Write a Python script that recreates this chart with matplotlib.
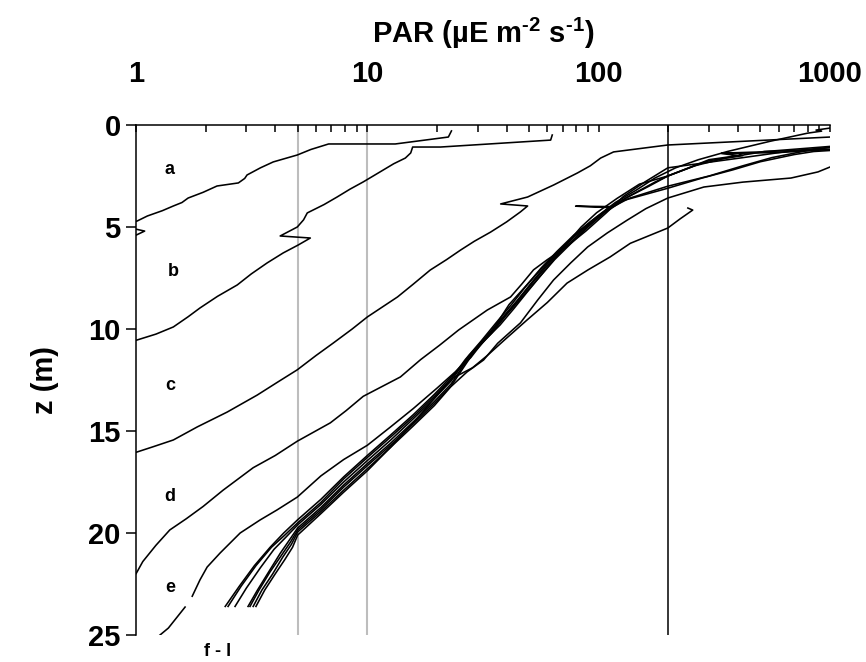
# PAR depth profiles (log scale) -- profiles a to l
import numpy as np
import matplotlib
matplotlib.use("Agg")
import matplotlib.pyplot as plt
from matplotlib.ticker import LogLocator, NullFormatter

plt.rcParams["font.family"] = ["Liberation Sans", "DejaVu Sans"]
plt.rcParams["font.weight"] = "bold"
plt.rcParams["mathtext.fontset"] = "custom"
plt.rcParams["mathtext.rm"] = "Liberation Sans:bold"
plt.rcParams["mathtext.default"] = "rm"

nan = np.nan

# Profiles: depth z (m) and PAR (uE m-2 s-1)
z_a = [0.29, 0.59, 0.93, 0.93, 1.20, 1.47, 1.81, 2.10, 2.45, 2.62, 2.84, 2.99, 3.30, 3.58,
       3.80, 3.97, 4.20, 4.46, 4.71, 4.80, 5.05, 5.20, 5.40, 5.50]
par_a = [23.1, 22.4, 13.2, 6.8, 5.7, 4.98, 3.92, 3.45, 3.02, 2.95, 2.77, 2.24, 1.95, 1.68,
         1.58, 1.45, 1.30, 1.12, 1.01, 0.92, 0.95, 1.09, 1.0, 0.85]

z_b = [0.49, 0.74, 1.08, 1.08, 1.37, 1.62, 1.90, 2.21, 2.50, 2.79, 3.15, 3.53, 3.90, 4.31,
       4.65, 5.00, 5.44, 5.54, 5.88, 6.27, 6.76, 7.30, 7.84, 8.40, 8.97, 9.40, 9.90, 10.25,
       10.54, 10.70]
par_b = [63, 62, 20.7, 15.7, 15.4, 14.6, 13.0, 11.7, 10.6, 9.6, 8.4, 7.4, 6.5, 5.5,
         5.3, 4.98, 4.2, 5.67, 5.03, 4.33, 3.69, 3.15, 2.74, 2.25, 1.89, 1.68, 1.45, 1.22,
         1.01, 0.9]

z_c = [0.59, 0.98, 1.32, 1.62, 2.00, 2.35, 2.94, 3.53, 3.87, 3.97, 4.26, 4.75, 5.25, 5.70,
       6.13, 6.60, 7.11, 7.80, 8.43, 9.41, 10.0, 10.69, 11.30, 12.0, 12.60, 13.24, 14.07,
       14.80, 15.44, 15.78, 16.03, 16.20]
par_c = [1000, 199, 116, 102, 92, 81, 63.9, 49.3, 37.7, 49.3, 45.9, 40.0, 34.1, 29.0,
         25.3, 22.0, 18.7, 15.8, 13.5, 10.0, 8.6, 7.12, 6.0, 4.98, 4.1, 3.34, 2.48,
         1.84, 1.45, 1.18, 1.01, 0.9]

z_d = [1.10, 1.25, 1.60, 2.10, 2.80, 3.50, 4.30, 5.20, 6.00, 6.60, 7.10, 7.80, 8.43, 9.07,
       10.05, 10.80, 11.50, 12.35, 13.30, 14.00, 14.60, 15.50, 16.20, 16.80, 17.90, 18.70,
       19.30, 19.85, 20.60, 21.40, 22.00, 22.30]
par_d = [1000, 700, 420, 199, 158, 128, 108, 88, 72, 60, 52.3, 46.5, 41.6, 33.0,
         24.8, 20.5, 17.0, 13.9, 9.6, 8.1, 6.92, 4.98, 4.0, 3.21, 2.38, 1.95,
         1.65, 1.40, 1.22, 1.07, 1.0, 0.9]

z_e = [25.00, 24.66, 23.63, nan, 23.10, 22.30, 21.67, 20.98, 20.00, 19.36, 18.87, 18.24,
       17.20, 16.40, 15.70, 14.80, 13.90, 12.90, 12.10, 11.30, 10.50, 9.80, 9.00, 8.20,
       7.40, 6.60, 5.80, 5.00, 4.30, 3.60, 2.90, 2.50, 2.10, 1.70, 1.50, 1.40, 1.35, 1.20]
par_e = [1.27, 1.38, 1.63, nan, 1.75, 1.89, 2.03, 2.31, 2.82, 3.44, 4.07, 4.98,
         6.3, 7.9, 10.0, 12.6, 15.8, 20.0, 24.0, 28.0, 32.5, 37.5, 43.0, 49.0,
         56.0, 64.0, 73.0, 84.0, 98.0, 120, 150, 199, 245, 300, 400, 340, 600, 1000]

z_f = [23.60, 22.60, 21.60, 20.70, 20.00, 19.35, 18.35, 17.25, 16.20, 15.20, 14.20, 13.20,
       12.35, 11.40, 9.90, 8.80, 8.00, 7.20, 6.40, 5.60, 4.90, 4.20, 3.60, 3.00, 2.50,
       2.00, 1.60, 1.25, 1.10]
par_f = [2.43, 2.80, 3.25, 3.80, 4.35, 5.0, 6.3, 7.9, 10.0, 12.6, 15.8, 19.5,
         23.0, 28.0, 35.5, 41.0, 47.5, 55.0, 64.0, 76.0, 90.0, 107, 135, 199, 300,
         420, 560, 800, 1000]

z_g = [23.60, 22.60, 21.60, 20.70, 20.10, 19.50, 18.50, 17.35, 16.30, 15.30, 14.30, 13.30,
       12.45, 11.50, 10.60, 9.70, 8.80, 7.90, 7.00, 6.20, 5.40, 4.70, 4.00, 3.40, 2.80,
       2.50, 2.00, 1.75, 1.50, 1.40, 1.38, 1.32, 1.05]
par_g = [2.50, 2.85, 3.30, 3.85, 4.40, 5.0, 6.3, 7.9, 10.0, 12.6, 15.8, 19.5,
         23.0, 26.5, 31.0, 36.0, 42.0, 48.5, 56.5, 66.0, 78.0, 93.0, 113, 140, 175,
         199, 260, 300, 420, 400, 340, 500, 1000]

z_h = [23.60, 22.70, 21.70, 20.80, 20.20, 19.60, 18.60, 17.50, 16.45, 15.45, 14.40, 13.40,
       12.55, 11.30, 10.40, 9.50, 8.60, 7.70, 6.80, 6.00, 5.20, 4.50, 3.80, 3.20, 2.60,
       2.10, 1.70, 1.30, 0.80, 0.40, 0.30, 0.25, 0.15]
par_h = [2.68, 3.00, 3.45, 3.95, 4.45, 5.0, 6.3, 7.9, 10.0, 12.6, 15.8, 19.5,
         23.0, 27.5, 32.5, 38.0, 44.5, 51.5, 60.0, 70.0, 83.0, 98.0, 118, 145, 175,
         215, 270, 360, 550, 800, 920, 870, 1000]

z_i = [23.60, 22.80, 21.90, 21.00, 20.35, 19.75, 18.75, 17.65, 16.60, 15.60, 14.55, 13.55,
       12.70, 11.20, 10.30, 9.40, 8.50, 7.60, 6.70, 5.90, 5.10, 4.50, 4.00, 3.98, 4.05,
       3.60, 3.00, 2.50, 2.00, 1.60, 1.30, 1.20]
par_i = [3.05, 3.35, 3.75, 4.20, 4.60, 5.0, 6.3, 7.9, 10.0, 12.6, 15.8, 19.5,
         23.0, 28.2, 33.5, 39.0, 45.5, 53.0, 62.0, 73.0, 87.0, 100, 112, 79.5, 113,
         130, 165, 199, 260, 360, 520, 1000]

z_j = [23.60, 22.80, 21.90, 21.10, 20.45, 19.85, 18.85, 17.75, 16.70, 15.70, 14.65, 13.65,
       12.80, 11.10, 10.20, 9.30, 8.40, 7.50, 6.60, 5.80, 5.00, 4.30, 3.70, 3.10, 2.60,
       2.20, 1.80, 1.45, 1.30, 1.25]
par_j = [3.11, 3.40, 3.80, 4.25, 4.65, 5.0, 6.3, 7.9, 10.0, 12.6, 15.8, 19.5,
         23.0, 29.0, 34.5, 40.0, 47.0, 55.0, 64.5, 76.0, 90.0, 106, 128, 199, 280,
         380, 500, 700, 850, 1000]

z_k = [23.60, 22.80, 22.00, 21.20, 20.55, 19.95, 18.95, 17.90, 16.85, 15.80, 14.60, 13.40,
       12.45, 11.90, 11.30, 10.50, 9.56, 8.70, 7.75, 7.10, 6.47, 5.80, 5.05, 4.60, 4.17,
       4.07]
par_k = [3.21, 3.50, 3.90, 4.30, 4.70, 5.0, 6.3, 7.9, 10.0, 12.6, 15.8, 19.5,
         23.0, 28.5, 33.0, 39.5, 49.0, 60.0, 73.0, 90.0, 112, 137, 199, 225, 255,
         243]

z_l = [23.60, 22.80, 22.00, 21.30, 20.70, 20.10, 19.05, 18.00, 16.95, 15.80, 14.75, 13.75,
       12.84, 12.10, 11.52, 10.70, 9.70, 8.58, 7.60, 6.76, 5.98, 5.29, 4.66, 4.10, 3.58,
       3.04, 2.80, 2.60, 2.30, 2.06]
par_l = [3.30, 3.60, 4.00, 4.40, 4.75, 5.0, 6.3, 7.9, 10.0, 12.6, 15.8, 19.5,
         22.9, 27.0, 31.8, 36.6, 45.9, 54.5, 63.8, 75.7, 89.6, 109, 133, 160, 199,
         285, 420, 678, 887, 1000]

profiles = [(par_a, z_a), (par_b, z_b), (par_c, z_c), (par_d, z_d), (par_e, z_e),
            (par_f, z_f), (par_g, z_g), (par_h, z_h), (par_i, z_i), (par_j, z_j),
            (par_k, z_k), (par_l, z_l)]

# curve labels
label_text = ["a", "b", "c", "d", "e", "f - l"]
label_par = [1.40, 1.45, 1.40, 1.40, 1.40, 2.26]
label_z = [2.2, 7.2, 12.75, 18.2, 22.65, 25.8]

ref_lines = [5, 10]     # grey reference lines
sat_line = 200          # black reference line

fig = plt.figure(figsize=(8.66, 6.62), dpi=100)
ax = fig.add_axes([136 / 866, 1 - 635 / 662, (830 - 136) / 866, (635 - 125) / 662])

for x in ref_lines:
    ax.axvline(x, color="#bdbdbd", lw=1.5, zorder=1)
ax.axvline(sat_line, color="black", lw=1.1, zorder=1)

for par, z in profiles:
    ax.plot(par, z, color="black", lw=1.15, zorder=2)

for t, x, y in zip(label_text, label_par, label_z):
    ax.text(x, y, t, fontsize=13, fontweight="bold", ha="center", va="center",
            clip_on=False)

ax.set_xscale("log")
ax.set_xlim(1, 1000)
ax.set_ylim(25, 0)

ax.xaxis.tick_top()
ax.xaxis.set_label_position("top")
ax.set_xticks([1, 10, 100, 1000])
ax.set_xticklabels(["1", "10", "100", "1000"])
ax.xaxis.set_minor_locator(LogLocator(base=10, subs=range(2, 10)))
ax.xaxis.set_minor_formatter(NullFormatter())
ax.set_yticks([0, 5, 10, 15, 20, 25])

ax.tick_params(axis="x", which="both", direction="in", length=5, width=1.1,
               pad=27, labelsize=21)
ax.tick_params(axis="y", direction="out", length=7, width=1.1, labelsize=21, pad=4)

for s in ["right", "bottom"]:
    ax.spines[s].set_visible(False)
for s in ["top", "left"]:
    ax.spines[s].set_linewidth(1.1)

ax.set_xlabel(r"PAR (µE m$^{\text{-2}}$ s$^{\text{-1}}$)", fontsize=21, fontweight="bold",
              labelpad=12)
ax.set_ylabel("z (m)", fontsize=21, fontweight="bold", labelpad=21)

fig.savefig("out.png", dpi=100)
